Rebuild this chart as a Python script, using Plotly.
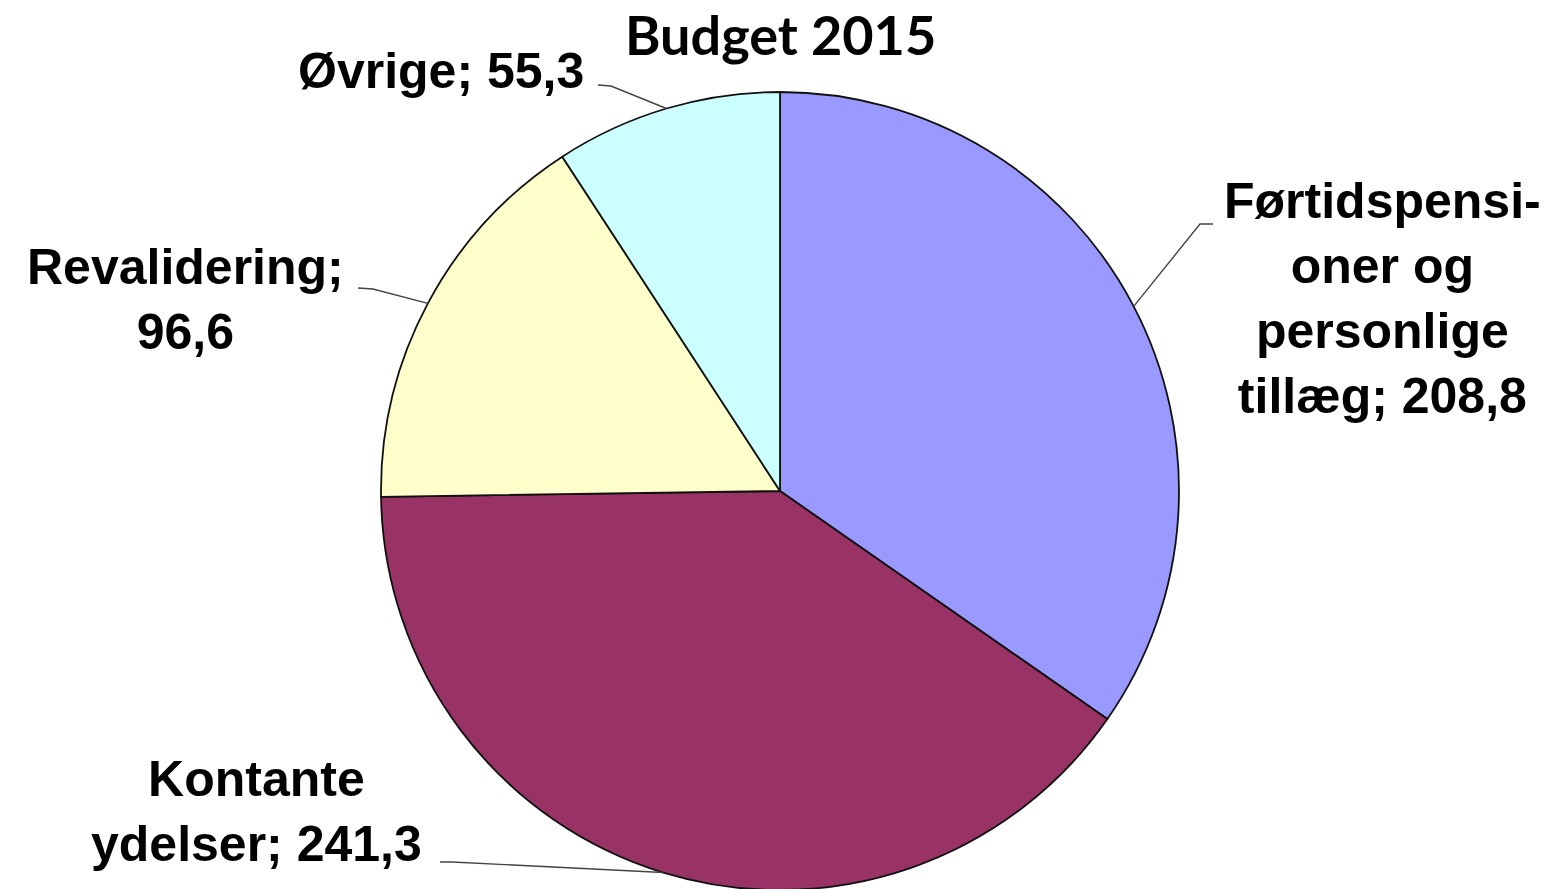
import numpy as np
import plotly.graph_objects as go

# data
names = ["Førtidspensioner og personlige tillæg", "Kontante ydelser", "Revalidering", "Øvrige"]
values = [208.8, 241.3, 96.6, 55.3]
colors = ["#9999FF", "#993366", "#FFFFCC", "#CCFFFF"]
title = "Budget 2015"

W, H = 1568, 889
OFF = 8  # page body margin in the browser
# pie geometry (pixels on the page) -> drives the pie domain and the leader line tips
cx, cy, r = 780, 491, 399


def to_paper(x, y):
    return (x - OFF) / W, 1 - (y - OFF) / H


def fmt(v):
    return f"{v:.1f}".replace(".", ",")


label_text = [
    "Førtidspensi-<br>oner og<br>personlige<br>tillæg; " + fmt(values[0]),
    "Kontante<br>ydelser; " + fmt(values[1]),
    "Revalidering;<br>" + fmt(values[2]),
    "Øvrige; " + fmt(values[3]),
]
# label centres and where the leader line leaves the label
label_pos = [(1382, 298), (256, 811), (185, 300), (441, 71)]
leader_start = [(1213, 224), (440, 862), (358, 288), (598, 85)]
leader_elbow = [(1200, 224), (452, 862), (373, 289), (611, 86)]

fig = go.Figure()
fig.add_trace(
    go.Pie(
        labels=names,
        values=values,
        sort=False,
        direction="clockwise",
        rotation=0,
        textinfo="none",
        hoverinfo="label+value",
        marker=dict(colors=colors, line=dict(color="#111111", width=1.8)),
        domain=dict(x=[0, 2 * (cx - OFF) / W],
                    y=[1 - (cy - OFF + r) / H, 1 - (cy - OFF - r) / H]),
        showlegend=False,
    )
)

# leader lines: tip at the mid angle of each slice on the rim
total = sum(values)
cum = np.cumsum([0] + values)
shapes = []
for i, v in enumerate(values):
    mid = (cum[i] + v / 2) / total * 2 * np.pi
    tip = (cx + r * np.sin(mid), cy - r * np.cos(mid))
    pp = [to_paper(*p) for p in (leader_start[i], leader_elbow[i], tip)]
    path = "M {} {} L {} {} L {} {}".format(pp[0][0], pp[0][1], pp[1][0], pp[1][1], pp[2][0], pp[2][1])
    shapes.append(dict(type="path", xref="paper", yref="paper", path=path,
                       line=dict(color="#444444", width=1.4)))

annotations = []
for t, (x, y) in zip(label_text, label_pos):
    px, py = to_paper(x, y)
    annotations.append(dict(
        text="<b>" + t + "</b>", x=px, y=py, xref="paper", yref="paper",
        xanchor="center", yanchor="middle", showarrow=False, align="center",
        font=dict(family="Liberation Sans, Arial", size=50, color="#000000"),
    ))

tx, ty = to_paper(780, 35)
annotations.append(dict(
    text="<b>" + title + "</b>", x=tx, y=ty, xref="paper", yref="paper",
    xanchor="center", yanchor="middle", showarrow=False, borderpad=0,
    font=dict(family="Lato", size=54, color="#000000"),
))

fig.update_layout(
    width=W,
    height=H,
    margin=dict(l=0, r=0, t=0, b=0),
    paper_bgcolor="white",
    plot_bgcolor="white",
    shapes=shapes,
    annotations=annotations,
)

fig.write_html("out.html")
